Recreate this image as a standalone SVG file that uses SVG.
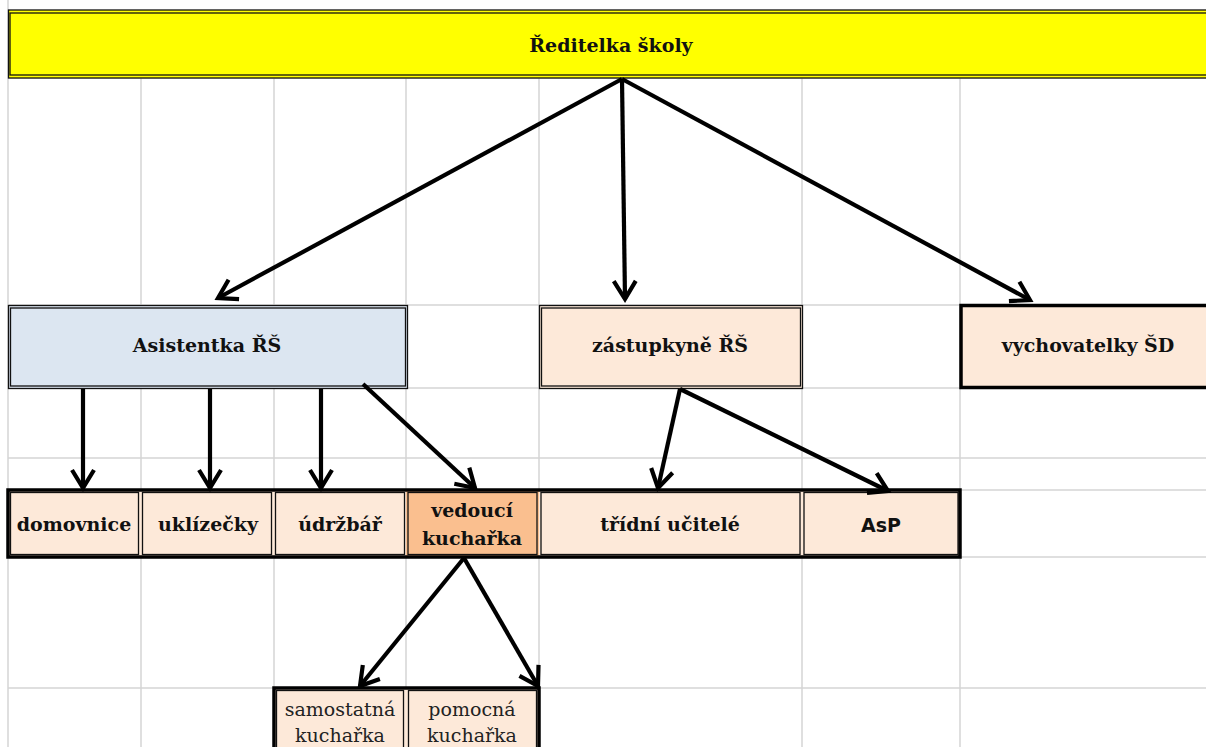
<svg xmlns="http://www.w3.org/2000/svg" width="1206" height="747" viewBox="0 0 1206 747">
<defs>
<style>
.grid{stroke:#d4d4d4;stroke-width:1.5;fill:none}
.dbl{fill:none;stroke:#111;stroke-width:1.3}
.thick{fill:none;stroke:#000;stroke-width:3.5}
.t{font-family:"DejaVu Serif","Liberation Serif",serif;font-weight:bold;font-size:19px;fill:#111;text-anchor:middle}
.tn{font-family:"DejaVu Serif","Liberation Serif",serif;font-size:19px;fill:#222;text-anchor:middle}
.ts{font-family:"DejaVu Sans","Liberation Sans",sans-serif;font-weight:bold;font-size:19px;fill:#111;text-anchor:middle}
.c{stroke:#000;stroke-width:4.2;fill:none;marker-end:url(#ah)}
.peach{fill:#FDE9D9}
</style>
<marker id="ah" markerUnits="userSpaceOnUse" viewBox="-24 -14 28 28" refX="0" refY="0" markerWidth="28" markerHeight="28" orient="auto">
<path d="M-18,-11 L0,0 L-18,11" fill="none" stroke="#000" stroke-width="4.2" stroke-linejoin="miter"/>
</marker>
</defs>
<rect width="1206" height="747" fill="#fff"/>
<g id="grid" class="grid">
<line x1="8" y1="0" x2="8" y2="747"/>
<line x1="141" y1="10" x2="141" y2="747"/>
<line x1="274" y1="10" x2="274" y2="747"/>
<line x1="406" y1="10" x2="406" y2="747"/>
<line x1="539" y1="10" x2="539" y2="747"/>
<line x1="802" y1="10" x2="802" y2="747"/>
<line x1="960" y1="10" x2="960" y2="747"/>
<line x1="8" y1="78" x2="1206" y2="78"/>
<line x1="8" y1="305" x2="1206" y2="305"/>
<line x1="8" y1="388" x2="1206" y2="388"/>
<line x1="8" y1="458" x2="1206" y2="458"/>
<line x1="8" y1="490" x2="1206" y2="490"/>
<line x1="8" y1="557" x2="1206" y2="557"/>
<line x1="8" y1="688" x2="1206" y2="688"/>
</g>
<g id="n-reditelka">
<rect x="8" y="10" width="1210" height="68" fill="#FFFF00"/>
<rect x="8.5" y="10" width="1210" height="68" class="dbl" stroke="#333"/>
<rect x="10" y="13" width="1210" height="62" class="dbl" stroke-width="1.8"/>
<text class="t" x="611" y="52">Ředitelka školy</text>
</g>
<g id="n-asistentka">
<rect x="8" y="305" width="399" height="83" fill="#DCE6F1"/>
<rect x="8.5" y="305.5" width="399" height="83" class="dbl"/>
<rect x="10.5" y="308" width="395" height="78" class="dbl" stroke="#555"/>
<text class="t" x="207" y="352">Asistentka ŘŠ</text>
</g>
<g id="n-zastupkyne">
<rect x="539" y="305" width="263" height="83" class="peach"/>
<rect x="539.5" y="305.5" width="263" height="83" class="dbl"/>
<rect x="541.5" y="308" width="259" height="78" class="dbl" stroke="#555"/>
<text class="t" x="670" y="352">zástupkyně ŘŠ</text>
</g>
<g id="n-vychovatelky">
<rect x="960" y="305" width="250" height="83" class="peach"/>
<rect x="961" y="305.5" width="250" height="82" class="thick"/>
<text class="t" x="1088" y="352">vychovatelky ŠD</text>
</g>
<g id="n-domovnice">
<rect x="8" y="490" width="133" height="67" class="peach"/>
<rect x="10.5" y="492.5" width="128" height="62" class="dbl"/>
<text class="t" x="74" y="531">domovnice</text>
</g>
<g id="n-uklizecky">
<rect x="141" y="490" width="133" height="67" class="peach"/>
<rect x="142.5" y="492.5" width="129" height="62" class="dbl"/>
<text class="t" x="208" y="531">uklízečky</text>
</g>
<g id="n-udrzbar">
<rect x="274" y="490" width="132" height="67" class="peach"/>
<rect x="275.5" y="492.5" width="129" height="62" class="dbl"/>
<text class="t" x="340" y="531">údržbář</text>
</g>
<g id="n-vedouci">
<rect x="406" y="490" width="133" height="67" fill="#FABF8F"/>
<rect x="408" y="492.5" width="129" height="62" class="dbl"/>
<text class="t" x="472" y="517">vedoucí</text>
<text class="t" x="472" y="545">kuchařka</text>
</g>
<g id="n-tridni">
<rect x="539" y="490" width="263" height="67" class="peach"/>
<rect x="541" y="492.5" width="259" height="62" class="dbl"/>
<text class="t" x="670" y="531">třídní učitelé</text>
</g>
<g id="n-asp">
<rect x="802" y="490" width="158" height="67" class="peach"/>
<rect x="804" y="492.5" width="154" height="62" class="dbl"/>
<text class="ts" x="881" y="532">AsP</text>
</g>
<rect x="8" y="490" width="952" height="67" class="thick" stroke-width="3"/>
<g id="n-samostatna">
<rect x="274" y="688" width="132" height="62" class="peach"/>
<rect x="276.5" y="690.5" width="127" height="60" class="dbl"/>
<text class="tn" x="340" y="716">samostatná</text>
<text class="tn" x="340" y="742">kuchařka</text>
</g>
<g id="n-pomocna">
<rect x="406" y="688" width="133" height="62" class="peach"/>
<rect x="408.5" y="690.5" width="128" height="60" class="dbl"/>
<text class="tn" x="472" y="716">pomocná</text>
<text class="tn" x="472" y="742">kuchařka</text>
</g>
<rect x="274" y="688" width="265" height="62" class="thick" stroke-width="3"/>
<g id="connectors">
<line class="c" x1="622" y1="79" x2="218" y2="298"/>
<line class="c" x1="622" y1="79" x2="625" y2="299"/>
<line class="c" x1="622" y1="79" x2="1030" y2="300"/>
<line class="c" x1="83" y1="389" x2="83" y2="488"/>
<line class="c" x1="210" y1="389" x2="210" y2="488"/>
<line class="c" x1="321" y1="389" x2="321" y2="488"/>
<line class="c" x1="363" y1="384" x2="475" y2="488"/>
<line class="c" x1="680" y1="389" x2="658" y2="488"/>
<line class="c" x1="680" y1="389" x2="888" y2="491"/>
<line class="c" x1="464" y1="558" x2="360" y2="686"/>
<line class="c" x1="464" y1="558" x2="538" y2="686"/>
</g>
</svg>
